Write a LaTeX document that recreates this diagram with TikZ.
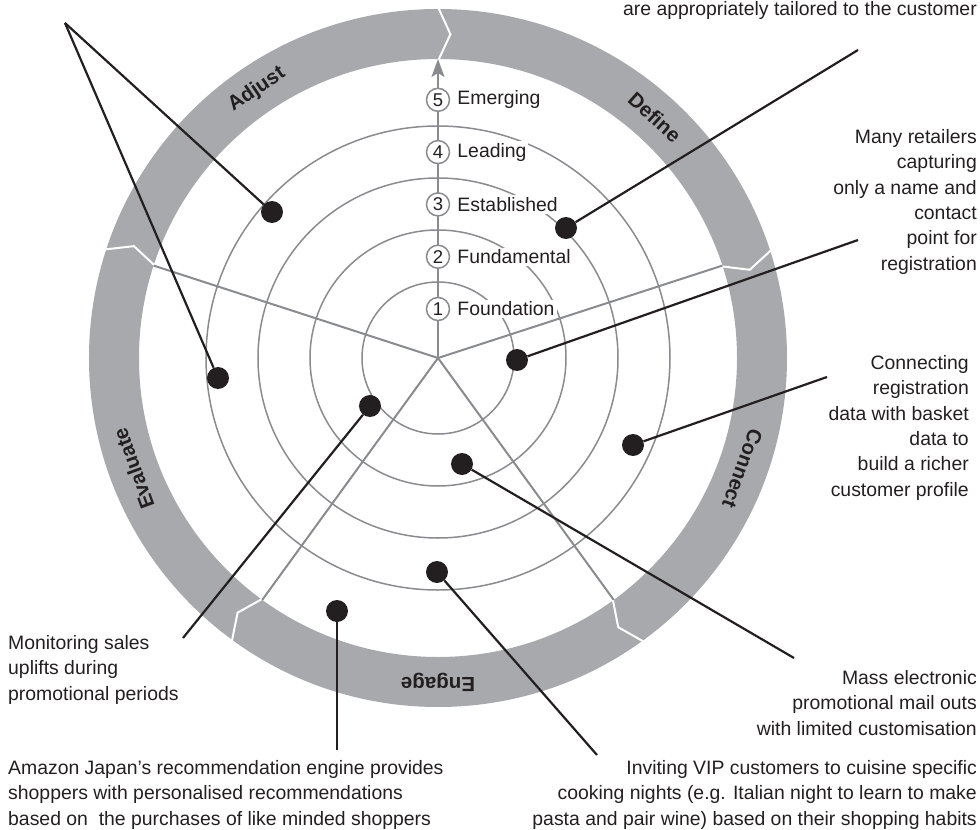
\documentclass[tikz,border=0pt]{standalone}
\usepackage{fontspec}
\setmainfont{Liberation Sans}
\usepackage{xcolor}
\usepackage{tikz}
\usetikzlibrary{arrows.meta, positioning}

\definecolor{ringgrey}{RGB}{167,169,172}
\definecolor{linegrey}{RGB}{138,139,142}
\definecolor{inkblack}{RGB}{35,31,32}

\tikzset{
  lvlnum/.style={circle, draw=linegrey, line width=1.5pt, fill=white, minimum size=23pt, inner sep=0pt, text=inkblack, font=\fontsize{18.5}{18.5}\selectfont},
  lvltext/.style={fill=white, inner sep=2pt, text=inkblack, font=\fontsize{19.4}{24}\selectfont},
  phase/.style={text=inkblack, font=\bfseries\fontsize{20.5}{20.5}\selectfont},
  spot/.style={circle, fill=inkblack, minimum size=22pt, inner sep=0pt},
  callout/.style={inner sep=0pt, text=inkblack, font=\fontsize{19.4}{25.4}\selectfont},
  leader/.style={inkblack, line width=2.2pt},
}

\begin{document}
\begin{tikzpicture}[x=1pt, y=1pt]
  \useasboundingbox (-438,-472) rectangle (542,358);
  \clip (-438,-472) rectangle (542,358);

  % Phase ring with white breaks
  \fill[ringgrey, even odd rule] (0,0) circle (349) (0,0) circle (299);
  \foreach \a in {90,18,-54,-126,162}
    \draw[white, line width=2pt] (\a:297) -- ({\a-2.2}:324) -- (\a:351);

  \node[phase, rotate=34] (adjust) at (124:324) {Adjust};
  \node[phase, rotate=-42] (define) at (48:324) {Define};
  \node[phase, rotate=-110] (connect) at (-20:324) {Connect};
  \node[phase, rotate=180] (engage) at (-90:324) {Engage};
  \node[phase, rotate=110] (evaluate) at (200:324) {Evaluate};

  % Maturity circles and spokes
  \foreach \r in {76,128,180,232}
    \draw[linegrey, line width=1.5pt] (0,0) circle (\r);
  \coordinate (hub) at (0,0);
  \foreach \a in {18,162,234,306}
    \draw[linegrey, line width=2pt] (hub) -- (\a:299);
  \coordinate (tip) at (90:299);
  \draw[linegrey, line width=2pt, -{Stealth[length=18pt, width=13pt, inset=4pt]}] (hub) -- (tip);

  % Levels
  \node[lvlnum] (n1) at (0,49) {1};
  \node[lvltext, right=5pt of n1] (t1) {Foundation};
  \node[lvlnum] (n2) at (0,101.3) {2};
  \node[lvltext, right=5pt of n2] (t2) {Fundamental};
  \node[lvlnum] (n3) at (0,153.6) {3};
  \node[lvltext, right=5pt of n3] (t3) {Established};
  \node[lvlnum] (n4) at (0,205.9) {4};
  \node[lvltext, right=5pt of n4] (t4) {Leading};
  \node[lvlnum] (n5) at (0,258.2) {5};
  \node[lvltext, right=5pt of n5] (t5) {Emerging};

  % Examples
  \node[spot] (p1) at (-166,146) {};
  \node[spot] (p2) at (-220,-20) {};
  \node[spot] (p3) at (128,130) {};
  \node[spot] (p4) at (79,-2) {};
  \node[spot] (p5) at (195,-87) {};
  \node[spot] (p6) at (-1,-214) {};
  \node[spot] (p7) at (-101,-253) {};
  \node[spot] (p8) at (-68,-48) {};
  \node[spot] (p9) at (24,-106) {};

  \coordinate (e12) at (-373,335);
  \coordinate (e3) at (420,308);
  \coordinate (e4) at (420,118);
  \coordinate (e5) at (389,-19);
  \coordinate (e6) at (159,-397);
  \coordinate (e7) at (-101,-392);
  \coordinate (e8) at (-255,-280);
  \coordinate (e9) at (356,-300);

  \draw[leader] (e12) -- (p1);
  \draw[leader] (e12) -- (p2);
  \draw[leader] (e3) -- (p3);
  \draw[leader] (e4) -- (p4);
  \draw[leader] (e5) -- (p5);
  \draw[leader] (e6) -- (p6);
  \draw[leader] (e7) -- (p7);
  \draw[leader] (e8) -- (p8);
  \draw[leader] (e9) -- (p9);

  \node[callout, anchor=north east, align=right] (c3) at (539,357) {are appropriately tailored to the customer};
  \node[callout, anchor=north east, align=right] (c4) at (539,229) {Many retailers\\capturing\\only a name and\\contact\\point for\\registration};
  \node[callout, anchor=north east, align=right] (c5) at (531,3) {Connecting\\registration\\data with basket\\data to\\build a richer\\customer profile};
  \node[callout, anchor=north east, align=right] (c9) at (539,-312) {Mass electronic\\promotional mail outs\\with limited customisation};
  \node[callout, anchor=north east, align=right] (c6) at (539,-402) {Inviting VIP customers to cuisine specific\\cooking nights (e.g. Italian night to learn to make\\pasta and pair wine) based on their shopping habits};
  \node[callout, anchor=north west, align=left] (c7) at (-430,-402) {Amazon Japan’s recommendation engine provides\\shoppers with personalised recommendations\\based on~ the purchases of like minded shoppers};
  \node[callout, anchor=north west, align=left] (c8) at (-430,-277) {Monitoring sales\\uplifts during\\promotional periods};
\end{tikzpicture}
\end{document}
